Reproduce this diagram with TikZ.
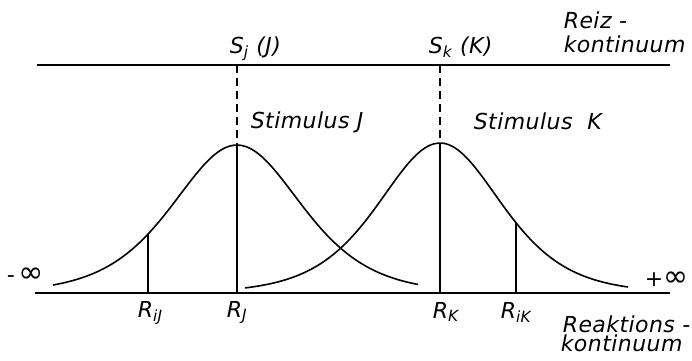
\documentclass[tikz,border=0pt]{standalone}
\usepackage{fontspec}
\usepackage{tikz}
\newfontfamily\lettering[LetterSpace=2]{DejaVu Sans}
\newcommand{\bigInf}{{\fontsize{15}{15}\selectfont ∞}}
\tikzset{
	lbl/.style={inner sep=0pt, anchor=base west, font=\lettering\itshape\fontsize{11}{13}\selectfont},
	guide/.style={dash pattern=on 4pt off 2.5pt, semithick}
}

\begin{document}
\begin{tikzpicture}[thick, x=0.5pt, y=-0.5pt]

	\useasboundingbox (0,0) rectangle (692,360);

	%axes

	\coordinate (topL) at (37,65);
	\coordinate (topR) at (670,65);
	\coordinate (botL) at (35,293);
	\coordinate (botR) at (670,293);
	\draw (topL)--(topR);
	\draw (botL)--(botR);

	%curve J

	\draw plot[domain=53:418, samples=90, smooth] (\x, {293-148/(cosh((\x-237)/86))^2});
	\coordinate (tJ) at (237,65);
	\coordinate (pJ) at (237,145);
	\coordinate (bJ) at (237,293);
	\draw[guide] (tJ)--(pJ);
	\draw[semithick] (pJ)--(bJ);
	\coordinate (iJtop) at (148,{293-148/(cosh((148-237)/86))^2});
	\coordinate (iJbot) at (148,293);
	\draw[semithick] (iJtop)--(iJbot);

	%curve K

	\draw plot[domain=245:628, samples=90, smooth] (\x, {293-150/(cosh((\x-440)/82))^2});
	\coordinate (tK) at (440,65);
	\coordinate (pK) at (440,143);
	\coordinate (bK) at (440,293);
	\draw[guide] (tK)--(pK);
	\draw[semithick] (pK)--(bK);
	\coordinate (iKtop) at (516,{293-150/(cosh((516-440)/82))^2});
	\coordinate (iKbot) at (516,293);
	\draw[semithick] (iKtop)--(iKbot);

	%labels

	\node[lbl] (sj) at (229,53) {S\textsubscript{j} (J)};
	\node[lbl] (sk) at (428,53) {S\textsubscript{k} (K)};
	\node[lbl] (reiz) at (563,28) {Reiz -};
	\node[lbl] (reizk) at (563,52) {kontinuum};
	\node[lbl] (stimJ) at (250,128) {Stimulus J};
	\node[lbl] (stimK) at (473,129) {Stimulus\ \ K};
	\node[lbl] (minf) at (6,282) {-\,\bigInf};
	\node[lbl] (pinf) at (644,286) {+\bigInf};
	\node[lbl] (riJ) at (137,317) {R\textsubscript{iJ}};
	\node[lbl] (rJ) at (226,317) {R\textsubscript{J}};
	\node[lbl] (rK) at (432,318) {R\textsubscript{K}};
	\node[lbl] (riK) at (500,318) {R\textsubscript{iK}};
	\node[lbl] (reak) at (562,332) {Reaktions -};
	\node[lbl] (reakk) at (560,351) {kontinuum};

\end{tikzpicture}
\end{document}
